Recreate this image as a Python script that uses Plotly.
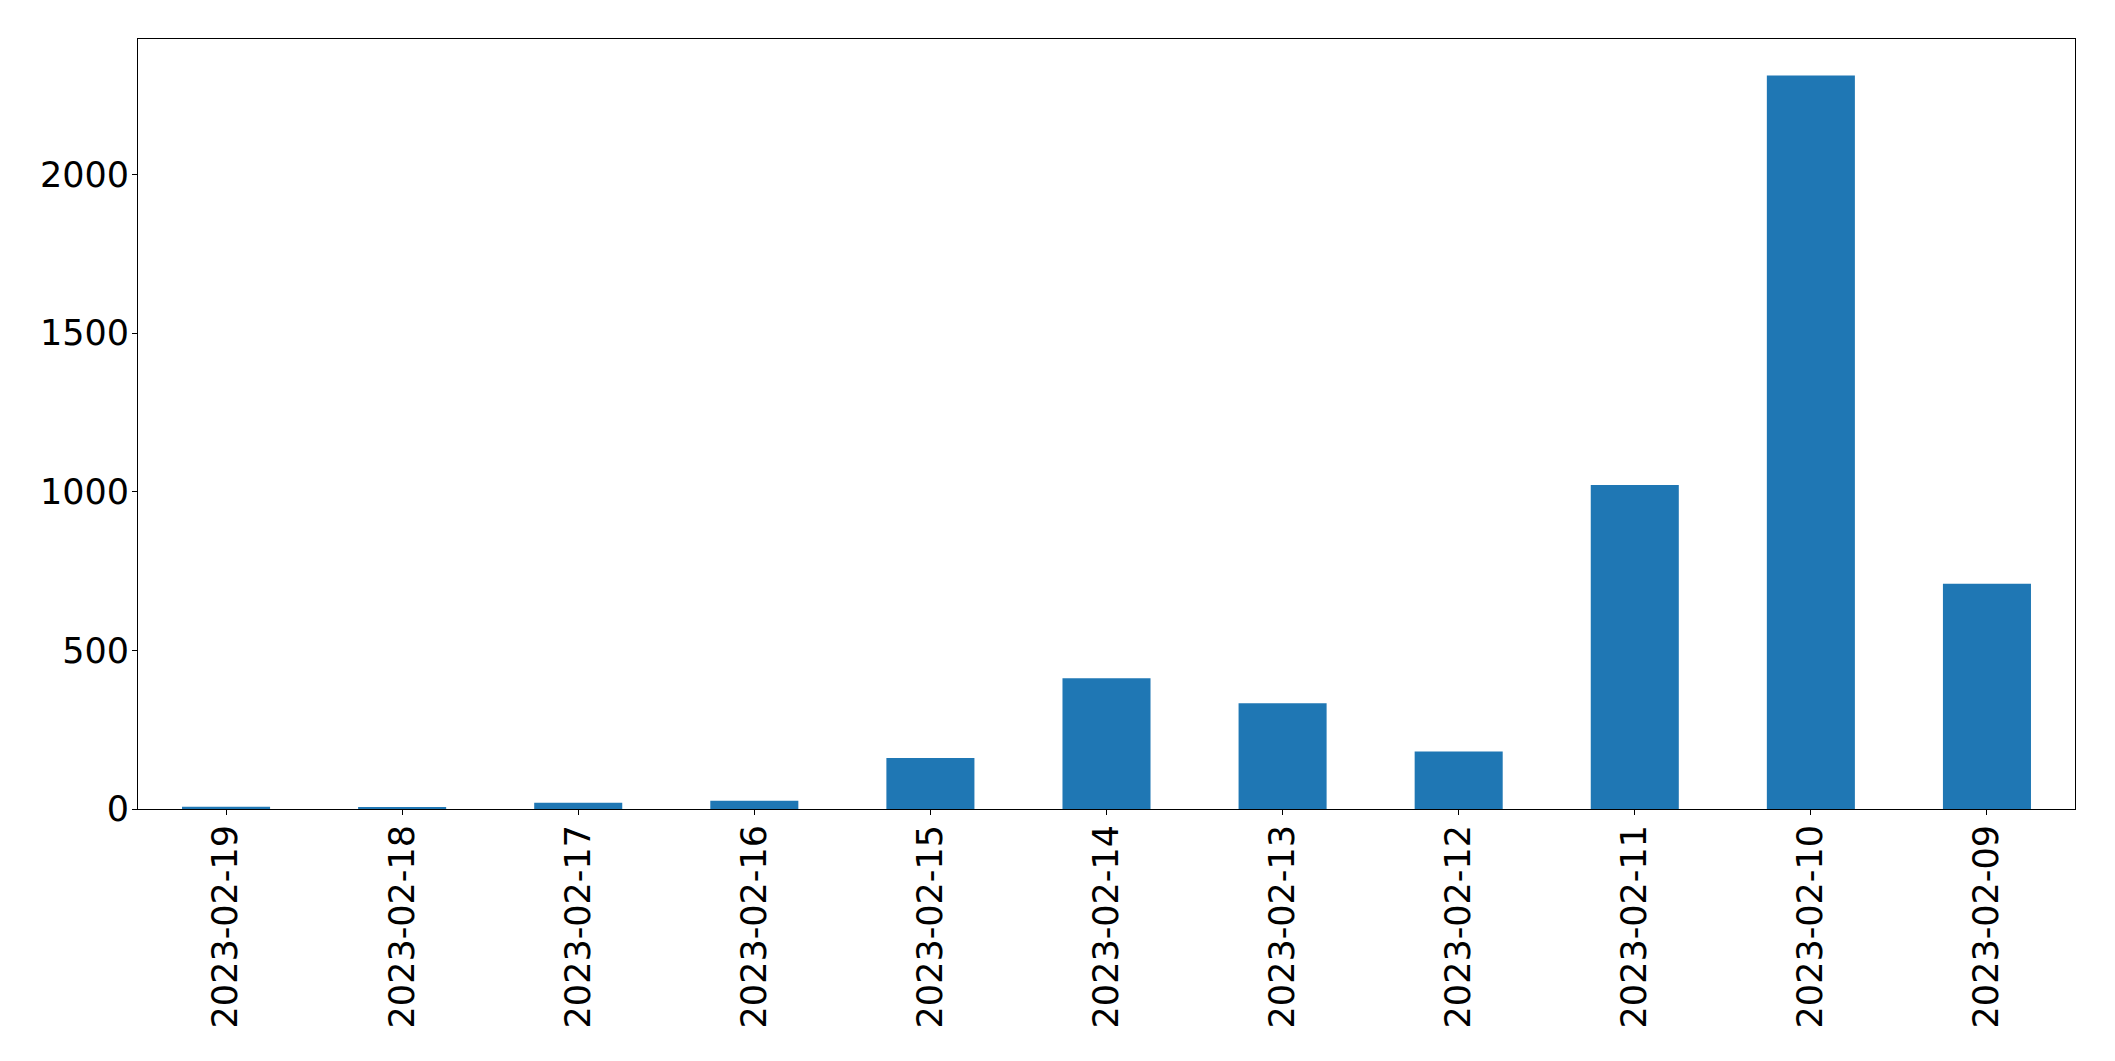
import plotly.graph_objects as go

dates = ["2023-02-19", "2023-02-18", "2023-02-17", "2023-02-16", "2023-02-15",
         "2023-02-14", "2023-02-13", "2023-02-12", "2023-02-11", "2023-02-10", "2023-02-09"]
counts = [7, 6, 20, 26, 161, 412, 333, 181, 1021, 2312, 710]
y_ticks = [0, 500, 1000, 1500, 2000]

fig = go.Figure()
fig.add_trace(go.Bar(x=dates, y=counts, marker=dict(color="#1f77b4", line=dict(width=0)), width=0.5))

fig.update_layout(
    width=2115, height=1061,
    margin=dict(l=138, r=40, t=39, b=252, pad=0),
    paper_bgcolor="white", plot_bgcolor="white",
    font=dict(family="DejaVu Sans", size=35, color="black"),
    showlegend=False,
)
fig.update_xaxes(
    type="category", range=[-0.5, 10.5],
    tickangle=-90, ticks="outside", ticklen=5, tickwidth=1, tickcolor="black",
    showline=True, linecolor="black", linewidth=1, mirror=True,
    showgrid=False, zeroline=False, ticklabelstandoff=-4,
)
fig.update_yaxes(
    range=[0, 2427], tickvals=y_ticks, ticktext=[str(v) for v in y_ticks],
    ticks="outside", ticklen=5, tickwidth=1, tickcolor="black",
    showline=True, linecolor="black", linewidth=1, mirror=True,
    showgrid=False, zeroline=False, ticklabelstandoff=-4,
)

fig.write_html("out.html")
